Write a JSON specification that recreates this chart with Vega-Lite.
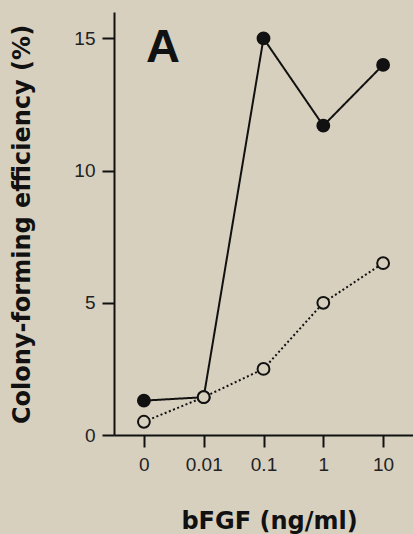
{
  "$schema": "https://vega.github.io/schema/vega-lite/v6.json",
  "width": 299,
  "height": 423,
  "autosize": {"type": "none"},
  "padding": {"left": 114, "top": 12, "right": 0, "bottom": 99},
  "background": "#d7d0bf",
  "config": {
    "view": {"stroke": null},
    "axis": {
      "domainColor": "#111",
      "domainWidth": 2,
      "tickColor": "#111",
      "tickWidth": 2,
      "tickSize": 12,
      "grid": false,
      "labelFont": "Liberation Sans",
      "labelFontSize": 19,
      "labelColor": "#222",
      "titleFont": "DejaVu Sans",
      "titleFontWeight": "bold",
      "titleFontSize": 24,
      "titleColor": "#111"
    }
  },
  "datasets": {
    "main": [
      {"dose": "0", "series": "filled", "value": 1.3},
      {"dose": "0.01", "series": "filled", "value": 1.43},
      {"dose": "0.1", "series": "filled", "value": 15.0},
      {"dose": "1", "series": "filled", "value": 11.7},
      {"dose": "10", "series": "filled", "value": 14.0},
      {"dose": "0", "series": "open", "value": 0.5},
      {"dose": "0.01", "series": "open", "value": 1.43},
      {"dose": "0.1", "series": "open", "value": 2.5},
      {"dose": "1", "series": "open", "value": 5.0},
      {"dose": "10", "series": "open", "value": 6.5}
    ],
    "label": [{"label": "A", "dose": "0", "value": 15}]
  },
  "encoding": {
    "x": {
      "field": "dose",
      "type": "ordinal",
      "sort": ["0", "0.01", "0.1", "1", "10"],
      "scale": {"type": "point", "padding": 0.5},
      "axis": {
        "title": "bFGF (ng/ml)",
        "labelAngle": 0,
        "labelPadding": 8,
        "titleX": 155,
        "titleY": 93,
        "titleBaseline": "alphabetic",
        "titleAlign": "center"
      }
    },
    "y": {
      "field": "value",
      "type": "quantitative",
      "scale": {"domain": [0, 16], "nice": false},
      "axis": {
        "title": "Colony-forming efficiency (%)",
        "values": [0, 5, 10, 15],
        "labelPadding": 7,
        "titleX": -92,
        "titleY": 212,
        "titleAngle": -90,
        "titleBaseline": "middle",
        "titleAlign": "center"
      }
    }
  },
  "layer": [
    {
      "data": {"name": "main"},
      "mark": {"type": "line", "strokeWidth": 2, "color": "#111"},
      "encoding": {
        "detail": {"field": "series"},
        "strokeDash": {
          "field": "series",
          "type": "nominal",
          "scale": {"domain": ["filled", "open"], "range": [[1, 0], [2, 2.5]]},
          "legend": null
        }
      }
    },
    {
      "data": {"name": "main"},
      "mark": {"type": "point", "size": 140, "strokeWidth": 2, "stroke": "#111", "opacity": 1, "filled": false},
      "encoding": {
        "fill": {
          "field": "series",
          "type": "nominal",
          "scale": {"domain": ["filled", "open"], "range": ["#111111", "#d7d0bf"]},
          "legend": null
        }
      }
    },
    {
      "data": {"name": "label"},
      "mark": {"type": "text", "font": "Liberation Sans", "fontWeight": "bold", "fontSize": 47, "color": "#111", "align": "center", "baseline": "alphabetic", "dx": 19, "dy": 24},
      "encoding": {
        "text": {"field": "label"}
      }
    }
  ]
}
